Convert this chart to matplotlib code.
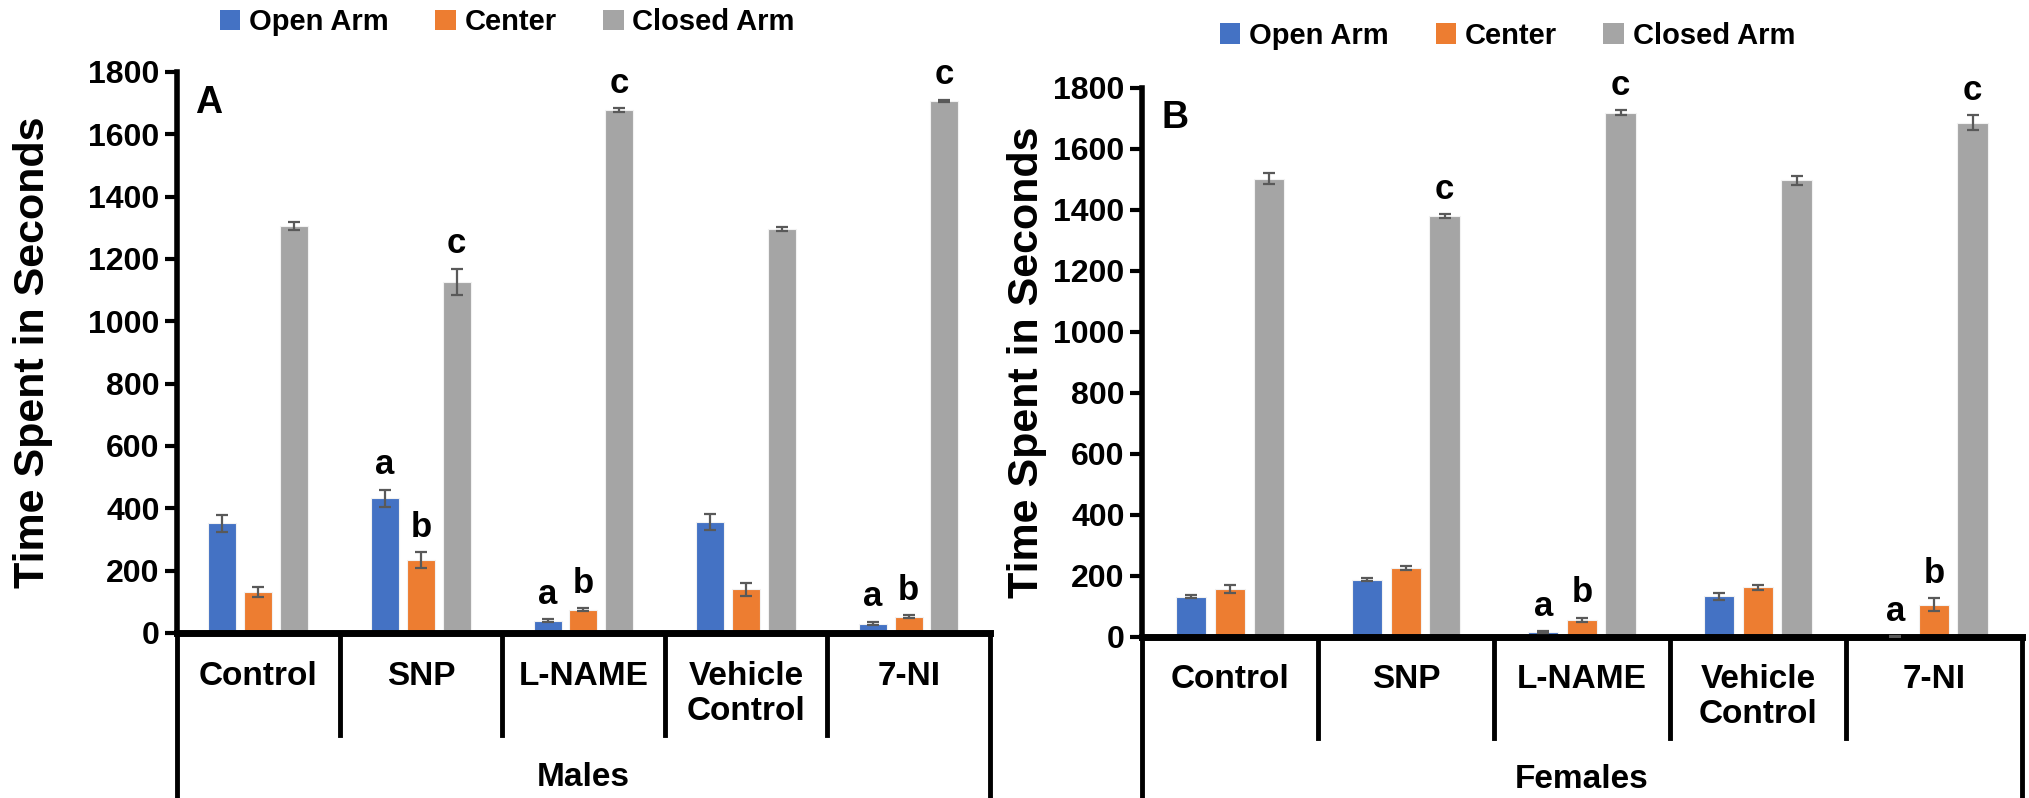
import matplotlib
matplotlib.use('Agg')
import matplotlib.pyplot as plt
from matplotlib.patches import Patch
import numpy as np

plt.rcParams['font.family'] = ['Liberation Sans Narrow', 'Liberation Sans', 'DejaVu Sans']
plt.rcParams['font.weight'] = 'bold'

groups = ['Control', 'SNP', 'L-NAME', 'Vehicle\nControl', '7-NI']
series = ['Open Arm', 'Center', 'Closed Arm']
colors = ['#4472C4', '#ED7D31', '#A5A5A5']

# Males (panel A)
males_open = [352, 432, 40, 355, 30]
males_center = [132, 235, 75, 140, 52]
males_closed = [1306, 1126, 1678, 1296, 1707]
males_open_err = [27, 28, 4, 26, 6]
males_center_err = [17, 25, 4, 21, 5]
males_closed_err = [12, 43, 6, 7, 4]
males_letters = [['', 'a', 'a', '', 'a'], ['', 'b', 'b', '', 'b'], ['', 'c', 'c', '', 'c']]

# Females (panel B)
females_open = [132, 188, 17, 133, 2]
females_center = [157, 226, 56, 163, 106]
females_closed = [1503, 1379, 1719, 1497, 1686]
females_open_err = [4, 5, 3, 11, 1]
females_center_err = [14, 8, 7, 9, 21]
females_closed_err = [17, 7, 8, 15, 24]
females_letters = [['', '', 'a', '', 'a'], ['', '', 'b', '', 'b'], ['', 'c', 'c', '', 'c']]

fig = plt.figure(figsize=(20.29, 7.98), dpi=100)
axA = fig.add_axes([0.0872, 0.2068, 0.4007, 0.703])
axB = fig.add_axes([0.5628, 0.2018, 0.4337, 0.688])


def draw_panel(ax, vals, errs, letters, title, panel, inner_bot, outer_bot, title_y, label_x):
    x = np.arange(len(groups))
    offsets = [-0.22, 0.0, 0.22]
    for k in range(3):
        ax.bar(x + offsets[k], vals[k], width=0.172, color=colors[k],
               edgecolor='#f2f2f2', linewidth=0.8, zorder=2)
        ax.errorbar(x + offsets[k], vals[k], yerr=errs[k], fmt='none',
                    ecolor='#595959', elinewidth=1.6, capsize=4, capthick=1.6, zorder=3)
        for i in range(len(groups)):
            if letters[k][i]:
                ax.annotate(letters[k][i], (x[i] + offsets[k], vals[k][i] + errs[k][i]),
                            xytext=(0, 6), textcoords='offset points', ha='center', va='bottom',
                            fontsize=25, fontweight='bold')
    ax.set_xlim(-0.5, len(groups) - 0.5)
    ax.set_ylim(0, 1800)
    ax.set_yticks(range(0, 1801, 200))
    ax.tick_params(axis='y', labelsize=23, width=3, length=9, direction='out')
    ax.set_xticks([])
    for s in ['top', 'right']:
        ax.spines[s].set_visible(False)
    ax.spines['left'].set_linewidth(4)
    ax.spines['bottom'].set_linewidth(5)
    ax.set_ylabel('Time Spent in Seconds', fontsize=31, fontweight='bold',
                  family=['Liberation Sans', 'DejaVu Sans'])
    ax.yaxis.set_label_coords(label_x, 0.5)
    tr = ax.get_xaxis_transform()
    for b in np.arange(-0.5, len(groups), 1.0):
        bot = outer_bot if b in (-0.5, len(groups) - 0.5) else inner_bot
        ax.plot([b, b], [0, bot], transform=tr, color='black', lw=3.5, clip_on=False)
    for i, g in enumerate(groups):
        ax.text(i, -0.05, g, transform=tr, ha='center', va='top', fontsize=24,
                fontweight='bold', linespacing=1.15)
    ax.text(2, title_y, title, transform=tr, ha='center', va='center', fontsize=24, fontweight='bold')
    ax.text(0.022, 0.945, panel, transform=ax.transAxes, ha='left', va='center',
            fontsize=27, fontweight='bold')


draw_panel(axA, [males_open, males_center, males_closed],
           [males_open_err, males_center_err, males_closed_err],
           males_letters, 'Males', 'A', -0.182, -0.30, -0.257, -0.152)
draw_panel(axB, [females_open, females_center, females_closed],
           [females_open_err, females_center_err, females_closed_err],
           females_letters, 'Females', 'B', -0.184, -0.30, -0.26, -0.108)

handles = [Patch(facecolor=c) for c in colors]
for cx, cy in [(0.25, 0.972), (0.743, 0.955)]:
    fig.legend(handles, series, loc='center', bbox_to_anchor=(cx, cy), ncol=3, frameon=False,
               fontsize=21, handlelength=0.7, handleheight=0.7, handletextpad=0.3,
               columnspacing=1.6, borderaxespad=0)

fig.savefig('out.png', dpi=100)
